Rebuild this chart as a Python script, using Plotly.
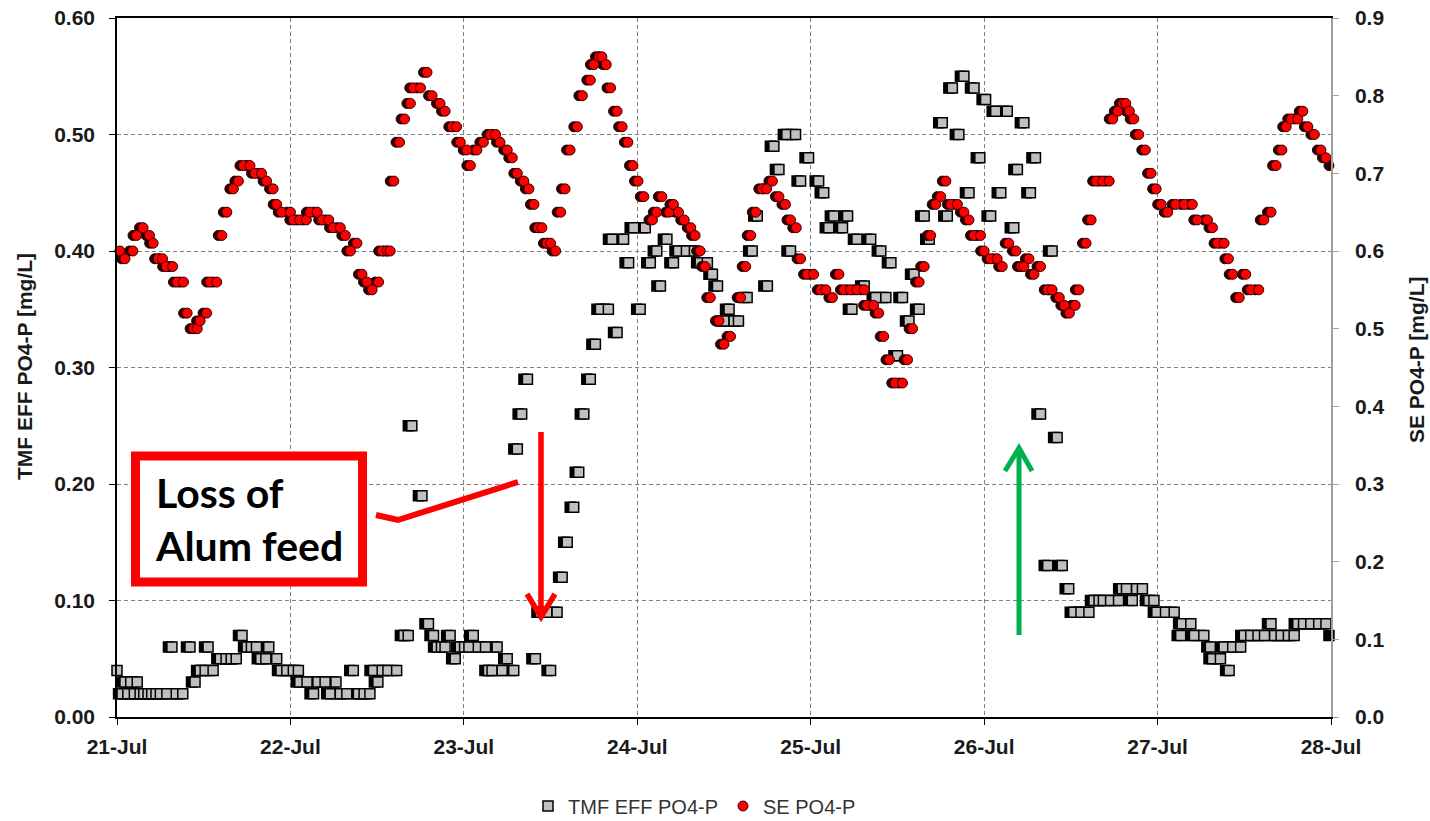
import pandas as pd
import plotly.graph_objects as go

# ---- data -------------------------------------------------------------
START = pd.Timestamp("2011-07-21")
N_DAYS = 7

# TMF effluent ortho-P (left axis, mg/L); time in hours from 21-Jul 00:00
TMF_HOURS = [
    0.0, 0.7, 1.1, 1.5, 1.9, 2.4, 2.8, 3.2, 3.7, 4.3,
    4.8, 5.4, 6.0, 6.9, 7.6, 8.2, 9.1, 10.1, 10.8, 11.5,
    12.2, 12.6, 13.3, 14.3, 15.1, 15.8, 16.5, 17.3, 18.0, 18.6,
    19.3, 19.9, 20.6, 21.0, 22.1, 22.7, 23.5, 24.4, 25.1, 25.3,
    26.3, 27.2, 27.8, 28.8, 29.5, 30.3, 30.9, 31.8, 32.7, 33.4,
    34.2, 35.0, 35.5, 36.1, 36.7, 37.5, 38.7, 39.7, 40.3, 40.8,
    42.2, 43.1, 43.8, 44.3, 44.9, 45.4, 46.1, 46.8, 47.5, 48.1,
    48.7, 49.3, 50.0, 51.0, 51.4, 51.9, 52.6, 53.3, 54.0, 54.9,
    55.4, 56.0, 56.8, 57.9, 58.6, 59.5, 60.0, 60.9, 61.6, 62.3,
    63.2, 63.9, 64.6, 65.5, 66.2, 66.9, 68.0, 68.5, 69.2, 70.1,
    70.8, 71.5, 72.4, 73.1, 73.8, 74.7, 75.2, 76.1, 77.0, 77.7,
    78.8, 79.9, 80.7, 81.7, 82.4, 83.1, 84.0, 84.7, 85.4, 86.0,
    87.2, 87.9, 88.6, 90.0, 90.9, 91.6, 92.7, 93.2, 93.9, 94.6,
    95.7, 97.1, 97.8, 98.5, 99.2, 100.4, 101.1, 101.7, 102.4, 103.4,
    104.3, 105.0, 105.7, 106.4, 107.1, 108.0, 108.7, 109.6, 110.3, 111.0,
    111.7, 112.4, 114.2, 114.9, 115.6, 116.5, 117.2, 117.9, 118.6, 119.4,
    120.2, 120.9, 121.6, 122.3, 123.2, 124.1, 124.6, 125.5, 126.4, 127.1,
    127.8, 128.8, 129.4, 130.1, 130.8, 131.7, 132.4, 133.4, 134.5, 135.2,
    135.9, 136.5, 137.5, 138.6, 139.1, 139.7, 140.5, 141.1, 141.9, 142.8,
    143.5, 143.9, 145.1, 146.3, 147.2, 147.4, 148.6, 149.1, 150.4, 151.3,
    151.6, 152.7, 153.2, 153.9, 154.4, 155.5, 156.0, 156.9, 157.9, 158.8,
    159.7, 160.2, 161.1, 162.1, 162.9, 163.4, 164.2, 165.2, 166.3, 167.3,
    168.2,
]
TMF_PO4 = [
    0.04, 0.02, 0.03, 0.02, 0.03, 0.02, 0.03, 0.02, 0.02, 0.02,
    0.02, 0.02, 0.02, 0.02, 0.06, 0.02, 0.02, 0.06, 0.03, 0.04,
    0.04, 0.06, 0.04, 0.05, 0.05, 0.05, 0.05, 0.07, 0.06, 0.06,
    0.06, 0.05, 0.05, 0.06, 0.05, 0.04, 0.04, 0.04, 0.04, 0.03,
    0.03, 0.02, 0.03, 0.03, 0.02, 0.03, 0.02, 0.02, 0.04, 0.02,
    0.02, 0.02, 0.04, 0.03, 0.04, 0.04, 0.04, 0.07, 0.07, 0.25,
    0.19, 0.08, 0.07, 0.06, 0.06, 0.06, 0.07, 0.05, 0.06, 0.06,
    0.06, 0.07, 0.06, 0.06, 0.04, 0.04, 0.06, 0.04, 0.05, 0.04,
    0.23, 0.26, 0.29, 0.05, 0.09, 0.09, 0.04, 0.09, 0.12, 0.15,
    0.18, 0.21, 0.26, 0.29, 0.32, 0.35, 0.35, 0.41, 0.33, 0.41,
    0.39, 0.42, 0.35, 0.42, 0.39, 0.40, 0.37, 0.41, 0.39, 0.40,
    0.40, 0.40, 0.39, 0.39, 0.38, 0.37, 0.34, 0.35, 0.34, 0.34,
    0.36, 0.40, 0.43, 0.37, 0.49, 0.47, 0.50, 0.40, 0.50, 0.46,
    0.48, 0.46, 0.45, 0.42, 0.43, 0.42, 0.43, 0.35, 0.41, 0.37,
    0.41, 0.36, 0.40, 0.36, 0.39, 0.31, 0.36, 0.34, 0.38, 0.35,
    0.43, 0.41, 0.51, 0.43, 0.54, 0.50, 0.55, 0.45, 0.54, 0.48,
    0.53, 0.43, 0.52, 0.45, 0.52, 0.42, 0.47, 0.51, 0.45, 0.48,
    0.26, 0.13, 0.40, 0.24, 0.13, 0.11, 0.09, 0.09, 0.09, 0.10,
    0.10, 0.10, 0.10, 0.10, 0.11, 0.11, 0.10, 0.11, 0.11, 0.10,
    0.10, 0.09, 0.09, 0.09, 0.07, 0.08, 0.08, 0.07, 0.07, 0.06,
    0.05, 0.05, 0.06, 0.04, 0.06, 0.06, 0.07, 0.07, 0.07, 0.07,
    0.08, 0.07, 0.07, 0.07, 0.07, 0.08, 0.08, 0.08, 0.08, 0.08,
    0.07,
]

# Secondary effluent ortho-P (right axis, mg/L)
SE_HOURS = [
    0.4, 1.1, 2.2, 2.7, 3.6, 4.5, 5.0, 5.7, 6.3, 6.8,
    7.7, 8.3, 9.2, 9.7, 10.6, 11.1, 11.5, 12.4, 12.9, 13.8,
    14.5, 15.2, 16.1, 16.8, 17.5, 18.4, 19.1, 20.0, 20.7, 21.6,
    22.1, 22.8, 24.0, 24.4, 25.3, 26.2, 26.7, 27.7, 28.4, 29.3,
    29.9, 30.9, 31.6, 32.3, 33.2, 33.9, 34.6, 35.3, 36.2, 36.7,
    37.4, 37.8, 38.3, 39.1, 39.8, 40.6, 41.0, 42.0, 42.9, 43.6,
    44.7, 45.4, 46.4, 47.0, 47.5, 48.4, 48.9, 49.8, 50.7, 51.7,
    52.4, 53.0, 54.0, 54.7, 55.4, 56.3, 57.0, 57.7, 58.3, 58.8,
    59.5, 60.0, 60.7, 61.4, 62.0, 62.7, 63.7, 64.4, 65.5, 66.0,
    66.7, 67.1, 67.7, 68.3, 69.2, 69.9, 70.7, 71.4, 72.1, 72.9,
    74.1, 74.7, 75.4, 76.4, 77.0, 77.7, 78.5, 79.4, 80.0, 80.7,
    81.4, 82.1, 83.3, 84.0, 84.9, 86.3, 87.0, 87.7, 88.4, 89.3,
    89.9, 90.7, 91.6, 92.5, 93.2, 94.0, 94.6, 95.5, 96.4, 97.4,
    98.1, 99.0, 99.9, 100.6, 101.5, 102.4, 103.4, 103.8, 104.7, 105.4,
    106.1, 106.9, 107.7, 108.7, 109.4, 110.1, 111.0, 111.7, 112.6, 113.3,
    114.0, 114.7, 115.4, 116.3, 117.2, 117.9, 118.6, 119.5, 120.0, 120.9,
    121.8, 122.5, 123.4, 124.4, 125.1, 125.5, 126.2, 126.9, 127.8, 128.8,
    129.4, 130.4, 131.1, 131.8, 132.6, 133.1, 134.1, 134.8, 135.5, 136.4,
    137.3, 137.8, 138.5, 139.2, 139.6, 140.1, 140.7, 141.4, 142.3, 143.1,
    143.8, 144.5, 145.4, 146.5, 147.7, 148.8, 149.5, 150.9, 151.6, 152.3,
    153.2, 153.8, 154.4, 155.3, 156.2, 156.9, 158.0, 158.7, 159.7, 160.4,
    161.2, 161.8, 162.5, 163.4, 164.1, 164.8, 165.7, 166.6, 167.3, 168.2,
]
SE_PO4 = [
    0.60, 0.59, 0.60, 0.62, 0.63, 0.62, 0.61, 0.59, 0.59, 0.58,
    0.58, 0.56, 0.56, 0.52, 0.50, 0.50, 0.51, 0.52, 0.56, 0.56,
    0.62, 0.65, 0.68, 0.69, 0.71, 0.71, 0.70, 0.70, 0.69, 0.68,
    0.66, 0.65, 0.65, 0.64, 0.64, 0.64, 0.65, 0.65, 0.64, 0.64,
    0.63, 0.63, 0.62, 0.60, 0.61, 0.57, 0.56, 0.55, 0.56, 0.60,
    0.60, 0.60, 0.69, 0.74, 0.77, 0.79, 0.81, 0.81, 0.83, 0.80,
    0.79, 0.78, 0.76, 0.76, 0.74, 0.73, 0.71, 0.73, 0.74, 0.75,
    0.75, 0.74, 0.73, 0.72, 0.70, 0.69, 0.68, 0.66, 0.63, 0.63,
    0.61, 0.61, 0.60, 0.65, 0.68, 0.73, 0.76, 0.80, 0.82, 0.84,
    0.85, 0.85, 0.84, 0.81, 0.78, 0.76, 0.74, 0.71, 0.69, 0.67,
    0.64, 0.65, 0.67, 0.65, 0.66, 0.65, 0.64, 0.63, 0.62, 0.60,
    0.58, 0.54, 0.51, 0.48, 0.49, 0.54, 0.58, 0.62, 0.65, 0.68,
    0.68, 0.69, 0.67, 0.66, 0.64, 0.63, 0.59, 0.57, 0.57, 0.55,
    0.55, 0.54, 0.57, 0.55, 0.55, 0.55, 0.55, 0.53, 0.53, 0.52,
    0.49, 0.46, 0.43, 0.43, 0.46, 0.50, 0.56, 0.58, 0.62, 0.66,
    0.67, 0.69, 0.66, 0.66, 0.65, 0.64, 0.62, 0.62, 0.60, 0.59,
    0.59, 0.58, 0.61, 0.60, 0.58, 0.58, 0.59, 0.57, 0.58, 0.55,
    0.55, 0.54, 0.53, 0.52, 0.53, 0.55, 0.61, 0.64, 0.69, 0.69,
    0.69, 0.77, 0.78, 0.79, 0.79, 0.78, 0.77, 0.75, 0.73, 0.70,
    0.68, 0.66, 0.65, 0.66, 0.66, 0.66, 0.64, 0.64, 0.63, 0.61,
    0.61, 0.59, 0.57, 0.54, 0.57, 0.55, 0.55, 0.64, 0.65, 0.71,
    0.73, 0.76, 0.77, 0.77, 0.78, 0.76, 0.75, 0.73, 0.72, 0.71,
]

# ---- styling ----------------------------------------------------------
FIG_W, FIG_H = 1430, 821
PLOT_L, PLOT_T, PLOT_W, PLOT_H = 117, 18, 1214, 699
AXIS_FONT = "Liberation Sans, Arial, sans-serif"
GRID = dict(showgrid=True, gridcolor="#808080", gridwidth=1, griddash="4px,3px")
SHADOW = pd.Timedelta(minutes=29)  # drop-shadow offset behind each marker

tmf_t = START + pd.to_timedelta(TMF_HOURS, unit="h")
se_t = START + pd.to_timedelta(SE_HOURS, unit="h")

fig = go.Figure()

fig.add_trace(go.Scatter(
    x=tmf_t - SHADOW, y=TMF_PO4, mode="markers", yaxis="y", showlegend=False,
    hoverinfo="skip", cliponaxis=False,
    marker=dict(symbol="square", size=10, color="#000000",
                line=dict(color="#000000", width=1.5)),
))
fig.add_trace(go.Scatter(
    x=tmf_t, y=TMF_PO4, mode="markers", name="TMF EFF PO4-P", yaxis="y",
    cliponaxis=False,
    marker=dict(symbol="square", size=10, color="#c0c0c0",
                line=dict(color="#000000", width=1.5)),
))
fig.add_trace(go.Scatter(
    x=se_t - SHADOW, y=SE_PO4, mode="markers", yaxis="y2", showlegend=False,
    hoverinfo="skip", cliponaxis=False,
    marker=dict(symbol="circle", size=10, color="#2a0000",
                line=dict(color="#2a0000", width=1)),
))
fig.add_trace(go.Scatter(
    x=se_t, y=SE_PO4, mode="markers", name="SE PO4-P", yaxis="y2",
    cliponaxis=False,
    marker=dict(symbol="circle", size=10, color="#ff0000",
                line=dict(color="#300000", width=1)),
))


def to_paper(x, y):
    """Pixel position inside the figure -> paper coordinates."""
    return (x - PLOT_L) / PLOT_W, (PLOT_T + PLOT_H - y) / PLOT_H


def polyline(*strokes):
    parts = []
    for stroke in strokes:
        for i, (x, y) in enumerate(stroke):
            px, py = to_paper(x, y)
            parts.append(("M" if i == 0 else "L") + f"{px:.5f},{py:.5f}")
    return " ".join(parts)


shapes = []
# callout box
bx0, by0 = to_paper(135.5, 582)
bx1, by1 = to_paper(362.5, 456)
shapes.append(dict(type="rect", xref="paper", yref="paper", layer="above",
                   x0=bx0, y0=by0, x1=bx1, y1=by1,
                   line=dict(color="#ff0000", width=9), fillcolor="#ffffff"))
# leader from the callout towards the onset
shapes.append(dict(type="path", xref="paper", yref="paper", layer="above",
                   path=polyline([(376, 515), (398, 520), (518, 482)]),
                   line=dict(color="#ff0000", width=6)))
# downward red arrow (alum feed lost)
shapes.append(dict(type="path", xref="paper", yref="paper", layer="above",
                   path=polyline([(541, 432), (541, 617)],
                                 [(527, 594), (541, 617), (555, 594)]),
                   line=dict(color="#ff0000", width=5.5)))
# upward green arrow (alum feed restored)
shapes.append(dict(type="path", xref="paper", yref="paper", layer="above",
                   path=polyline([(1019, 635), (1019, 448)],
                                 [(1005, 471), (1019, 448), (1032, 471)]),
                   line=dict(color="#00b050", width=5)))

tx, ty = to_paper(153, 519)
lx, ly = to_paper(24, 367)
rx, ry = to_paper(1416, 360)
annotations = [
    dict(text="Loss of<br>Alum feed", xref="paper", yref="paper", x=tx, y=ty,
         xanchor="left", yanchor="middle", align="left", showarrow=False,
         font=dict(family="Lato, Open Sans, sans-serif", size=41,
                   weight="bold", color="#000000")),
    dict(text="TMF EFF PO4-P [mg/L]", xref="paper", yref="paper", x=lx, y=ly,
         xanchor="center", yanchor="middle", textangle=-90, showarrow=False,
         font=dict(family=AXIS_FONT, size=21, weight="bold", color="#1a1a1a")),
    dict(text="SE PO4-P [mg/L]", xref="paper", yref="paper", x=rx, y=ry,
         xanchor="center", yanchor="middle", textangle=-90, showarrow=False,
         font=dict(family=AXIS_FONT, size=21, weight="bold", color="#1a1a1a")),
]

tick_font = dict(family=AXIS_FONT, size=21, weight="bold", color="#1a1a1a")

fig.update_layout(
    width=FIG_W, height=FIG_H,
    margin=dict(l=PLOT_L, r=FIG_W - PLOT_L - PLOT_W, t=PLOT_T,
                b=FIG_H - PLOT_T - PLOT_H, pad=0, autoexpand=False),
    paper_bgcolor="#ffffff", plot_bgcolor="#ffffff",
    xaxis=dict(
        type="date", range=[START, START + pd.Timedelta(days=N_DAYS)],
        tick0=START, dtick=86400000, tickformat="%d-%b", automargin=False,
        ticks="outside", ticklen=6, tickcolor="#000000", tickfont=tick_font,
        showline=True, linecolor="#000000", linewidth=1.5, mirror=True,
        zeroline=False, ticklabelstandoff=4, **GRID,
    ),
    yaxis=dict(
        range=[0, 0.6], dtick=0.1, tick0=0, tickformat=".2f", automargin=False,
        ticks="outside", ticklen=6, tickcolor="#000000", tickfont=tick_font,
        showline=True, linecolor="#000000", linewidth=1.5,
        zeroline=False, ticklabelstandoff=10, **GRID,
    ),
    yaxis2=dict(
        range=[0, 0.9], dtick=0.1, tick0=0, tickformat=".1f", automargin=False,
        overlaying="y", side="right", showgrid=False,
        ticks="outside", ticklen=6, tickcolor="#a0a0a0", tickfont=tick_font,
        showline=True, linecolor="#a0a0a0", linewidth=1.5,
        zeroline=False, ticklabelstandoff=12,
    ),
    legend=dict(
        orientation="h", xref="container", yref="container",
        x=528 / FIG_W, y=(FIG_H - 806) / FIG_H, xanchor="left", yanchor="middle",
        font=dict(family=AXIS_FONT, size=20, color="#333333"),
        bgcolor="rgba(0,0,0,0)", itemwidth=30,
    ),
    shapes=shapes,
    annotations=annotations,
    showlegend=True,
)

fig.write_html("out.html")
